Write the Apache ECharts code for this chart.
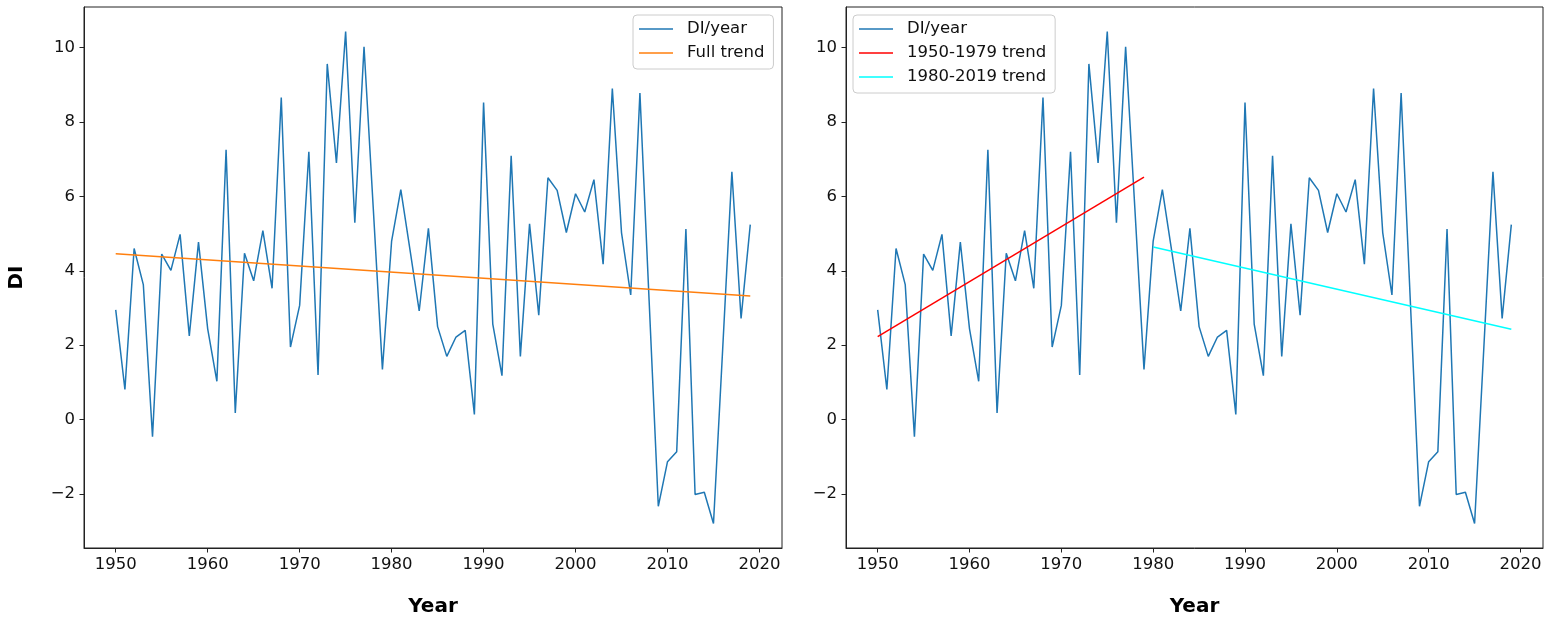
<!DOCTYPE html>
<html>
<head>
<meta charset="utf-8">
<script src="https://cdn.jsdelivr.net/npm/echarts@6/dist/echarts.min.js"></script>
<style>
html,body{margin:0;padding:0;background:#fff;}
#chart{width:1550px;height:622px;}
</style>
</head>
<body>
<div id="chart"></div>
<script>
// ---- data ----
var years = [1950,1951,1952,1953,1954,1955,1956,1957,1958,1959,
             1960,1961,1962,1963,1964,1965,1966,1967,1968,1969,
             1970,1971,1972,1973,1974,1975,1976,1977,1978,1979,
             1980,1981,1982,1983,1984,1985,1986,1987,1988,1989,
             1990,1991,1992,1993,1994,1995,1996,1997,1998,1999,
             2000,2001,2002,2003,2004,2005,2006,2007,2008,2009,
             2010,2011,2012,2013,2014,2015,2016,2017,2018,2019];
var diValues = [2.95,0.81,4.60,3.63,-0.46,4.45,4.01,4.98,2.25,4.77,
                2.44,1.03,7.25,0.18,4.47,3.73,5.08,3.53,8.66,1.95,
                3.07,7.20,1.20,9.56,6.90,10.43,5.29,10.02,5.70,1.35,
                4.80,6.18,4.56,2.92,5.14,2.50,1.70,2.22,2.40,0.14,
                8.52,2.57,1.18,7.09,1.70,5.26,2.81,6.50,6.16,5.03,
                6.07,5.58,6.45,4.18,8.90,5.02,3.35,8.78,3.20,-2.33,
                -1.13,-0.86,5.12,-2.01,-1.95,-2.79,1.90,6.66,2.72,5.24];
var fullTrendYears = [1950, 2019];
var fullTrendValues = [4.46, 3.32];
var earlyTrendYears = [1950, 1979];
var earlyTrendValues = [2.23, 6.52];
var lateTrendYears = [1980, 2019];
var lateTrendValues = [4.64, 2.43];
var xTicks = [1950,1960,1970,1980,1990,2000,2010,2020];
var yTicks = [-2,0,2,4,6,8,10];

function pairs(xs, ys){ return xs.map(function(x,i){ return [x, ys[i]]; }); }

var FONT = 'DejaVu Sans';
function xAxis(idx, withName){
  return {
    type:'value', gridIndex: idx, min:1946.55, max:2022.45,
    name: withName ? 'Year' : '', nameLocation:'middle', nameGap:49,
    nameTextStyle:{fontFamily:FONT, fontSize:20, fontWeight:'bold', color:'#000'},
    axisLine:{show:true, onZero:false, lineStyle:{color:'#222', width:1}},
    axisTick:{show:true, length:4.5, lineStyle:{color:'#222', width:1}, customValues:xTicks},
    axisLabel:{show:true, margin:8, fontFamily:FONT, fontSize:16.5, color:'#111', customValues:xTicks,
               formatter:function(v){return String(v);}},
    splitLine:{show:false}
  };
}
function yAxis(idx, withName){
  return {
    type:'value', gridIndex: idx, min:-3.45, max:11.09,
    name: withName ? 'DI' : '', nameLocation:'middle', nameGap:57, nameRotate:90,
    nameTextStyle:{fontFamily:FONT, fontSize:20, fontWeight:'bold', color:'#000'},
    axisLine:{show:true, onZero:false, lineStyle:{color:'#222', width:1}},
    axisTick:{show:true, length:4.5, lineStyle:{color:'#222', width:1}, customValues:yTicks},
    axisLabel:{show:true, margin:9, fontFamily:FONT, fontSize:16.5, color:'#111', customValues:yTicks,
               formatter:function(v){return String(v).replace('-', '\u2212');}},
    splitLine:{show:false}
  };
}
function lineSeries(name, data, color, xi){
  return {
    name:name, type:'line', xAxisIndex:xi, yAxisIndex:xi, data:data,
    showSymbol:false, symbol:'none', smooth:false, animation:false,
    lineStyle:{color:color, width:1.5}, itemStyle:{color:color}
  };
}
function legend(names, left, top){
  return {
    orient:'vertical', left:left, top:top, data:names,
    icon:'rect', itemWidth:34, itemHeight:1.6, itemGap:6,
    padding:[5,9,7,6], borderColor:'#cccccc', borderWidth:1, borderRadius:4,
    backgroundColor:'rgba(255,255,255,0.8)',
    textStyle:{fontFamily:FONT, fontSize:16.5, color:'#111', lineHeight:18, padding:[0,0,0,9]}
  };
}

var chart = echarts.init(document.getElementById('chart'), null, {renderer:'canvas'});
chart.setOption({
  backgroundColor:'#fff',
  animation:false,
  grid:[
    {left:84, top:7, width:698, height:542, show:true, borderColor:'#222', borderWidth:1, backgroundColor:'transparent'},
    {left:846, top:7, width:697, height:542, show:true, borderColor:'#222', borderWidth:1, backgroundColor:'transparent'}
  ],
  xAxis:[xAxis(0,true), xAxis(1,true)],
  yAxis:[yAxis(0,true), yAxis(1,false)],
  legend:[
    legend(['DI/year','Full trend'], 633, 15),
    legend(['DI/year ','1950-1979 trend','1980-2019 trend'], 853, 15)
  ],
  series:[
    lineSeries('DI/year', pairs(years, diValues), '#1f77b4', 0),
    lineSeries('Full trend', pairs(fullTrendYears, fullTrendValues), '#ff7f0e', 0),
    lineSeries('DI/year ', pairs(years, diValues), '#1f77b4', 1),
    lineSeries('1950-1979 trend', pairs(earlyTrendYears, earlyTrendValues), '#ff0000', 1),
    lineSeries('1980-2019 trend', pairs(lateTrendYears, lateTrendValues), '#00ffff', 1)
  ]
});
</script>
</body>
</html>
